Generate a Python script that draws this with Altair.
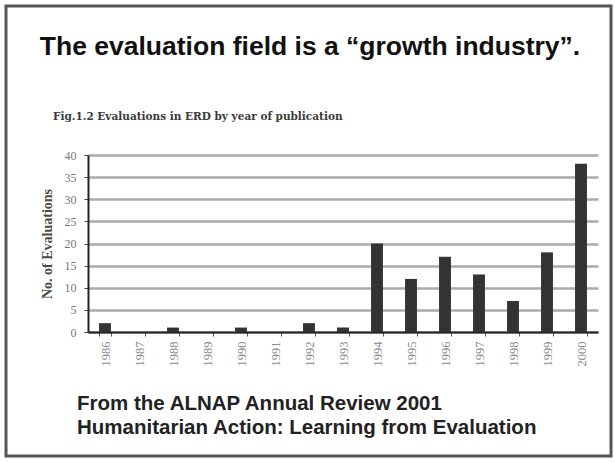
import altair as alt
import pandas as pd

# Evaluations in the ERD by year of publication
years = ["1986", "1987", "1988", "1989", "1990", "1991", "1992", "1993",
         "1994", "1995", "1996", "1997", "1998", "1999", "2000"]
counts = [2, 0, 1, 0, 1, 0, 2, 1, 20, 12, 17, 13, 7, 18, 38]
y_ticks = [0, 5, 10, 15, 20, 25, 30, 35, 40]

headline = "The evaluation field is a \u201cgrowth industry\u201d."
fig_caption = "Fig.1.2 Evaluations in ERD by year of publication"
source_lines = ["From the ALNAP Annual Review 2001",
                "Humanitarian Action: Learning from Evaluation"]

df = pd.DataFrame({"year": years, "count": counts})

W, H = 510, 177
PAD = {"left": 88, "top": 155, "right": 17, "bottom": 131}

bars = alt.Chart(df).mark_bar(color="#333333").encode(
    x=alt.X(
        "year:N", sort=years,
        scale=alt.Scale(paddingInner=0.65, paddingOuter=0.325),
        axis=alt.Axis(
            title=None, labelAngle=270, labelFont="Liberation Serif",
            labelFontSize=12.5, labelColor="#8a8a8a", labelPadding=5,
            tickBand="extent", tickSize=4, tickColor="#555555",
            domainColor="#222222", domainWidth=2, grid=False,
        ),
    ),
    y=alt.Y(
        "count:Q", scale=alt.Scale(domain=[0, 40], nice=False),
        axis=alt.Axis(
            values=y_ticks, title="No. of Evaluations",
            titleFont="Liberation Serif", titleFontSize=14,
            titleFontWeight="bold", titleColor="#4a4a4a", titlePadding=10,
            labelFont="Liberation Serif", labelFontSize=12,
            labelColor="#777777", labelPadding=8,
            tickSize=4, tickColor="#444444",
            domainColor="#222222", domainWidth=2,
            grid=True, gridColor="#ababab", gridWidth=2.5,
        ),
    ),
)


def note(text, x, y, size, weight="bold", font="Liberation Sans",
         color="#111111", align="left"):
    return alt.Chart(pd.DataFrame({"t": [text]})).mark_text(
        font=font, fontSize=size, fontWeight=weight, color=color,
        align=align, baseline="middle",
    ).encode(text="t:N", x=alt.value(x), y=alt.value(y))


frame = alt.Chart(pd.DataFrame({"k": [0]})).mark_rect(
    fill=None, stroke="#555555", strokeWidth=3,
).encode(
    x=alt.value(-82), x2=alt.value(523), y=alt.value(-149), y2=alt.value(301)
)

layers = [
    frame,
    bars,
    note(headline, 222, -108, 26.5, align="center"),
    note(fig_caption, -35, -38, 10.5, font="DejaVu Serif", color="#3a3a3a"),
    note(source_lines[0], -11, 249, 20.5, color="#222222"),
    note(source_lines[1], -11, 273, 20.5, color="#222222"),
]

chart = alt.layer(*layers).properties(
    width=W, height=H,
    autosize=alt.AutoSizeParams(type="none"),
    padding=PAD,
    background="white",
).configure_view(stroke=None)

chart.save("out.html", embed_options={"renderer": "svg", "actions": False})
